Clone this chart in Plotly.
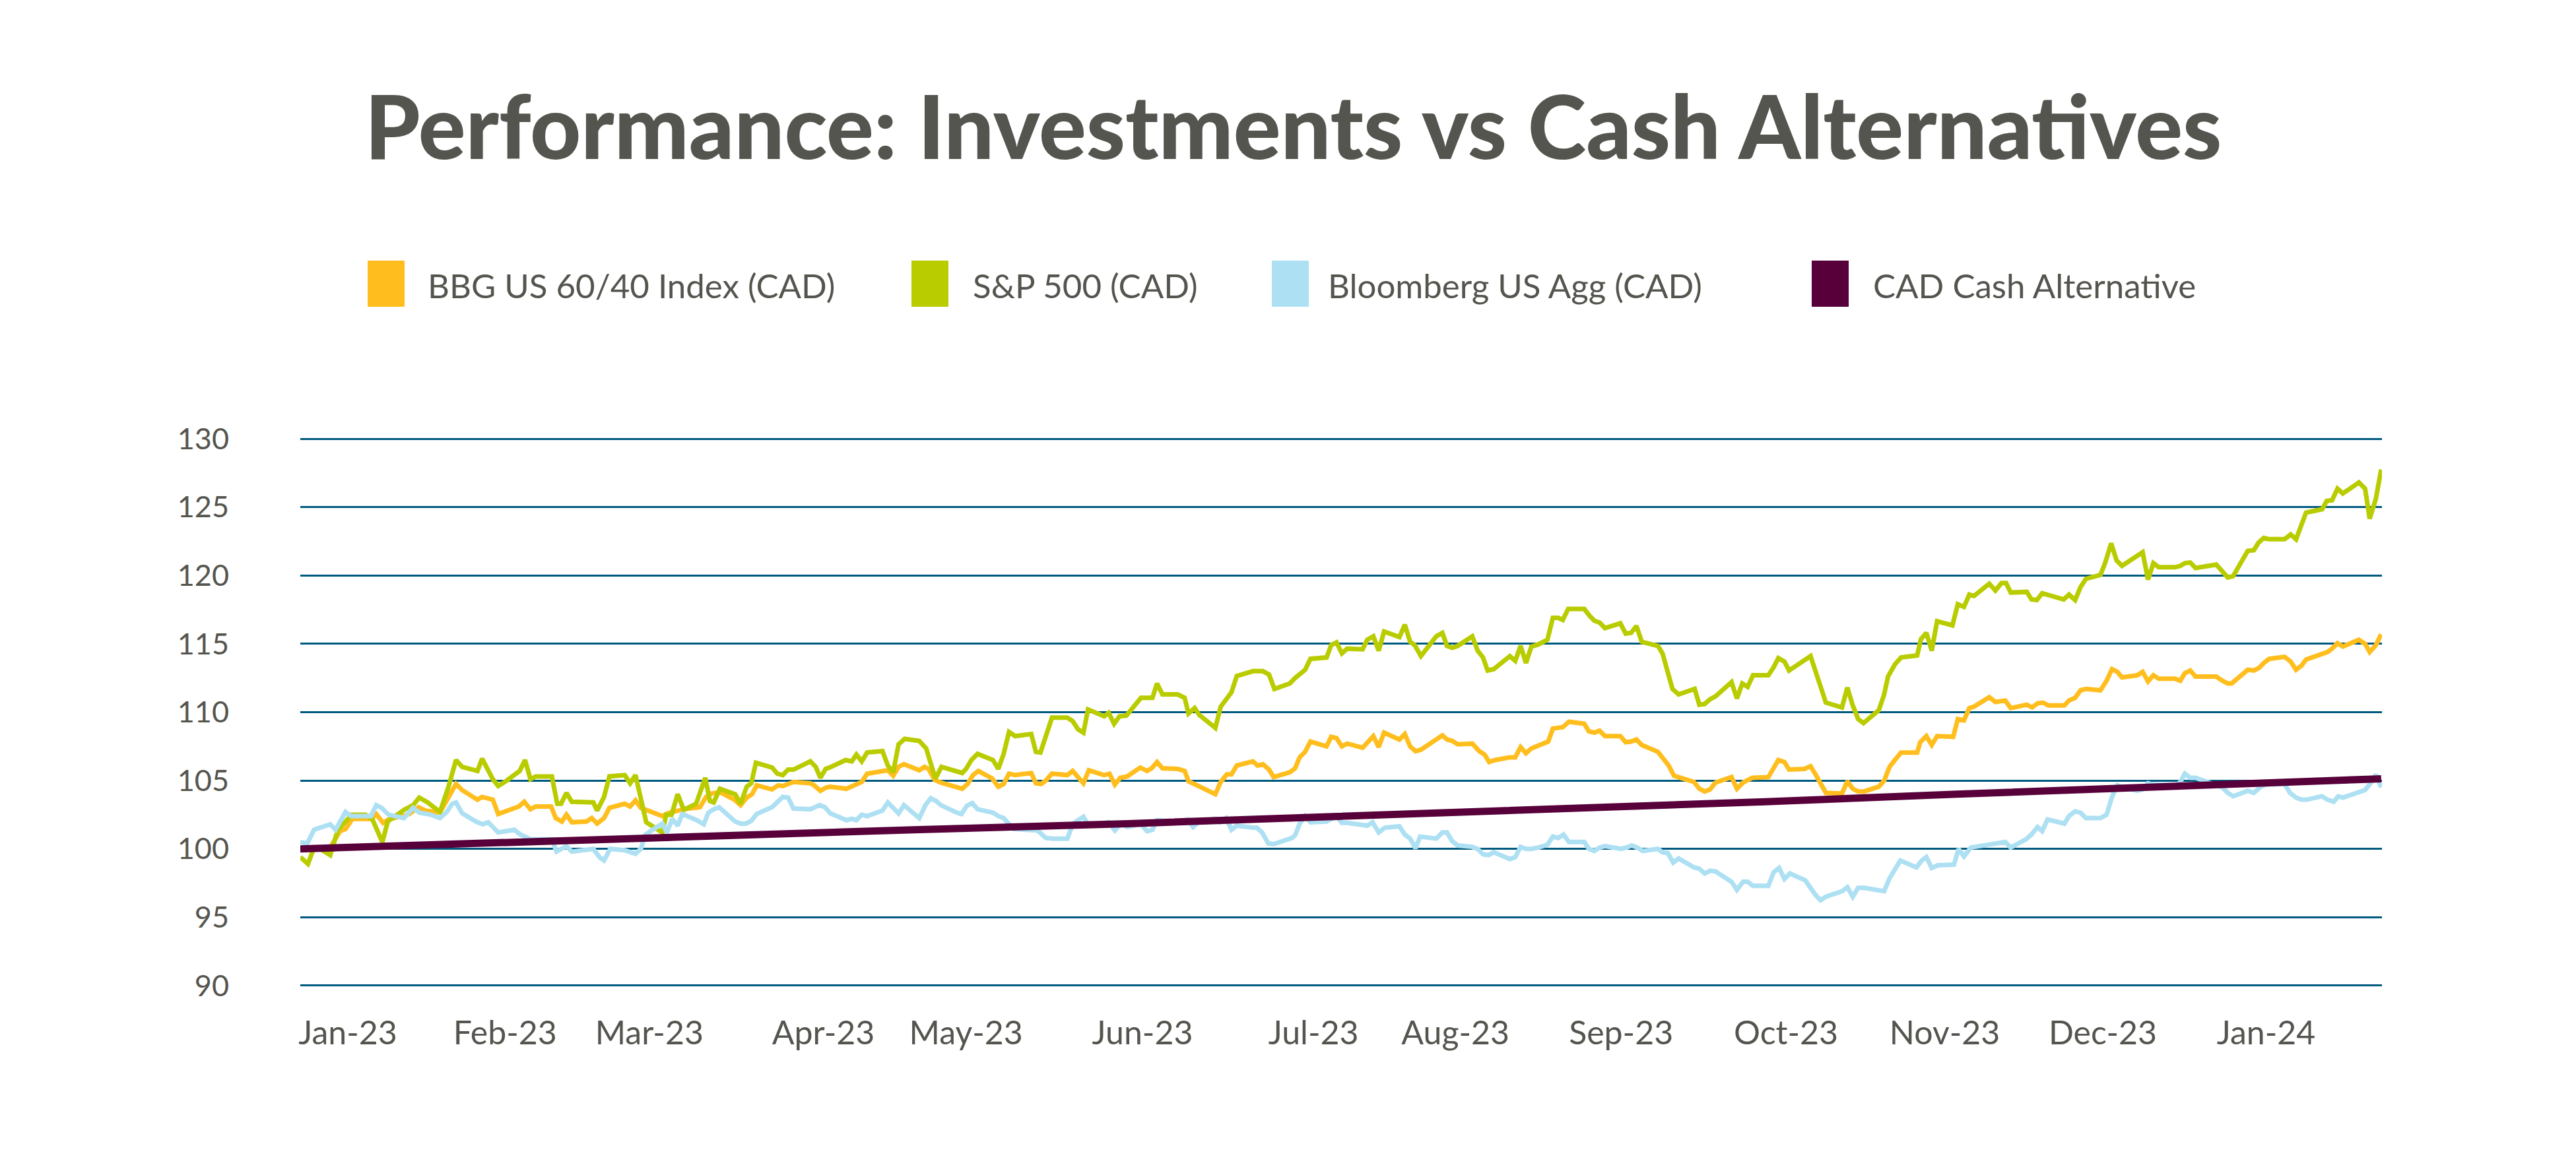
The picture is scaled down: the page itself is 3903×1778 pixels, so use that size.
import plotly.graph_objects as go

# ---------------- data (x = trading-day index, y = index level) ----------------
series_names = ["BBG US 60/40 Index (CAD)", "S&P 500 (CAD)", "Bloomberg US Agg (CAD)", "CAD Cash Alternative"]
series_colors = ["#FFBE1E", "#B9CC00", "#ADE0F2", "#58003A"]

bbg6040_points = [(0,100.0),(0.8,99.9),(1.8,100.05),(3.3,100.0),(4.0,100.2),(5.2,101.3),(5.9,101.45),(6.8,102.2),(9.2,102.2),(9.9,102.55),(10.8,101.9),(11.5,102.15),(13.3,102.4),(14.2,102.55),(15.4,103.05),(16.3,102.8),(18.2,102.65),(19.4,103.8),(20.3,104.75),(21.1,104.3),(23.1,103.6),(23.7,103.8),(25.1,103.6),(25.8,102.55),(28.5,103.1),(29.2,103.45),(30.0,102.9),(30.7,103.1),(32.7,103.1),(33.3,102.25),(34.1,102.0),(34.7,102.5),(35.4,101.95),(37.3,102.0),(38.0,102.25),(38.7,101.85),(39.6,102.25),(40.3,103.0),(42.3,103.3),(43.0,103.1),(43.7,103.55),(44.4,103.0),(47.2,102.4),(47.9,102.6),(49.3,102.85),(50.0,102.9),(52.1,103.05),(52.9,103.8),(53.6,104.05),(54.7,104.15),(56.6,103.6),(57.4,103.2),(58.2,103.75),(58.9,104.0),(59.5,104.65),(61.5,104.35),(62.3,104.65),(62.9,104.6),(64.3,104.9),(66.5,104.8),(67.0,104.65),(67.8,104.25),(68.6,104.5),(69.1,104.55),(71.2,104.4),(71.9,104.6),(72.6,104.8),(73.2,104.9),(73.9,105.5),(75.9,105.7),(76.6,105.75),(77.3,105.35),(78.0,106.0),(78.7,106.2),(80.7,105.75),(81.4,106.0),(81.9,105.85),(82.7,105.05),(83.5,104.85),(86.3,104.4),(87.0,104.75),(87.7,105.4),(88.4,105.7),(90.2,105.15),(91.0,104.55),(91.7,104.75),(92.4,105.5),(93.2,105.4),(95.3,105.55),(95.9,104.8),(96.6,104.75),(97.2,105.0),(98.0,105.5),(100.0,105.4),(100.7,105.7),(102.1,104.8),(102.8,105.75),(104.8,105.4),(105.5,105.5),(106.2,104.7),(106.9,105.2),(107.8,105.3),(109.5,105.95),(110.4,105.7),(111.0,105.9),(111.7,106.35),(112.4,105.9),(114.4,105.85),(115.3,105.7),(115.8,104.95),(116.6,104.75),(117.3,104.5),(119.3,104.0),(120.0,104.9),(120.8,105.45),(121.4,105.45),(122.1,106.1),(124.2,106.4),(124.8,106.1),(125.5,106.2),(126.3,105.8),(126.9,105.25),(129.0,105.6),(129.7,105.9),(130.3,106.7),(131.0,107.1),(131.7,107.85),(133.8,107.5),(134.4,108.2),(135.1,108.1),(135.8,107.5),(136.5,107.7),(138.5,107.4),(139.9,108.25),(140.6,107.45),(141.3,108.5),(143.3,108.0),(144.0,108.4),(144.7,107.5),(145.4,107.15),(146.1,107.25),(148.1,108.0),(148.9,108.3),(149.5,108.0),(150.2,107.9),(150.9,107.65),(152.8,107.7),(153.7,107.15),(154.4,106.9),(155.0,106.35),(155.8,106.5),(157.7,106.7),(158.4,106.7),(159.1,107.45),(159.8,107.0),(160.5,107.35),(161.4,107.55),(162.7,107.85),(163.3,108.8),(164.6,108.9),(165.4,109.3),(167.4,109.15),(168.0,108.6),(168.7,108.5),(169.4,108.65),(170.1,108.25),(172.1,108.25),(172.8,107.8),(173.5,107.85),(174.2,108.0),(174.9,107.6),(177.0,107.1),(177.7,106.6),(178.4,106.1),(179.1,105.35),(181.7,104.9),(182.4,104.4),(183.1,104.2),(183.8,104.35),(184.5,104.85),(186.6,105.25),(187.3,104.4),(188.1,104.85),(189.3,105.2),(191.4,105.25),(192.1,105.9),(192.7,106.5),(193.5,106.35),(194.1,105.8),(196.1,105.85),(196.9,106.05),(197.5,105.5),(198.2,104.8),(198.9,104.1),(201.0,104.05),(201.7,104.95),(202.4,104.4),(203.1,104.2),(203.9,104.2),(205.8,104.55),(206.5,105.0),(207.2,106.0),(207.9,106.5),(208.7,107.05),(210.8,107.05),(211.2,107.8),(212.0,108.25),(212.7,107.6),(213.4,108.25),(215.5,108.2),(216.1,109.5),(216.9,109.4),(217.6,110.3),(218.2,110.4),(220.2,111.1),(221.0,110.75),(222.3,110.85),(223.0,110.3),(225.1,110.55),(225.8,110.35),(226.5,110.65),(227.2,110.7),(227.9,110.5),(230.0,110.5),(230.6,110.85),(231.4,111.05),(232.1,111.6),(232.8,111.7),(234.7,111.6),(235.5,112.3),(236.2,113.15),(236.9,112.95),(237.5,112.55),(239.5,112.7),(240.2,112.95),(240.9,112.25),(241.6,112.7),(242.3,112.45),(244.4,112.45),(245.1,112.3),(245.7,112.85),(246.4,113.05),(247.1,112.6),(249.8,112.6),(250.6,112.3),(251.3,112.1),(251.8,112.1),(253.9,113.1),(254.7,113.05),(255.4,113.25),(256.0,113.6),(256.7,113.9),(258.7,114.05),(259.5,113.7),(260.2,113.1),(260.9,113.4),(261.5,113.85),(263.8,114.25),(264.3,114.4),(264.9,114.65),(265.6,115.05),(266.3,114.8),(268.4,115.3),(269.2,115.0),(269.8,114.4),(270.6,114.9),(271.3,115.7)]

sp500_points = [(0,99.4),(1.0,98.9),(1.8,100.1),(2.6,100.0),(3.9,99.55),(4.9,101.4),(5.9,102.0),(6.7,102.5),(8.5,102.5),(9.4,102.15),(10.7,100.5),(11.4,102.0),(13.5,102.85),(14.7,103.2),(15.5,103.75),(16.6,103.4),(18.2,102.7),(19.3,104.5),(20.3,106.5),(21.1,106.0),(23.1,105.7),(23.7,106.6),(25.1,105.1),(25.8,104.6),(26.8,104.95),(28.0,105.5),(28.6,105.7),(29.3,106.5),(30.0,105.1),(30.7,105.3),(32.8,105.3),(33.5,103.3),(34.0,103.3),(34.7,104.1),(35.4,103.45),(38.2,103.4),(38.7,102.8),(39.6,103.8),(40.3,105.3),(42.3,105.4),(43.0,104.8),(43.7,105.4),(44.4,103.6),(45.1,101.95),(47.2,101.2),(47.7,102.5),(48.4,102.5),(49.2,104.0),(50.0,102.85),(51.6,103.3),(52.8,105.2),(53.4,103.5),(53.9,103.4),(54.7,104.4),(56.7,104.0),(57.4,103.3),(58.2,104.55),(58.8,104.8),(59.4,106.3),(61.5,105.95),(62.2,105.5),(62.9,105.4),(63.6,105.8),(64.3,105.8),(66.5,106.4),(67.2,106.0),(67.8,105.2),(68.5,105.85),(69.0,105.95),(71.1,106.5),(71.9,106.4),(72.5,106.9),(73.2,106.4),(73.9,107.05),(75.9,107.15),(76.6,106.1),(77.3,105.6),(78.0,107.65),(78.8,108.05),(80.7,107.9),(81.6,107.35),(82.1,106.45),(82.8,105.15),(83.6,106.0),(85.6,105.7),(86.3,105.55),(86.8,105.85),(87.5,106.5),(88.3,106.95),(90.3,106.5),(91.0,105.85),(91.7,106.95),(92.4,108.55),(93.2,108.25),(95.3,108.4),(95.9,107.1),(96.5,107.05),(98.0,109.6),(100.0,109.6),(100.7,109.35),(101.4,108.75),(102.1,108.5),(102.7,110.2),(104.8,109.7),(105.4,109.95),(106.1,109.15),(106.8,109.7),(107.7,109.75),(109.6,111.05),(111.1,111.05),(111.7,112.1),(112.4,111.3),(114.4,111.3),(115.3,111.05),(115.8,109.9),(116.6,110.3),(117.2,109.8),(119.3,108.85),(120.0,110.4),(121.4,111.45),(122.1,112.65),(124.2,113.0),(125.5,113.0),(126.3,112.75),(127.0,111.7),(129.0,112.1),(129.7,112.5),(131.0,113.1),(131.7,113.9),(133.8,114.0),(134.4,114.9),(135.1,115.1),(135.8,114.3),(136.5,114.65),(138.5,114.6),(139.1,115.3),(139.9,115.55),(140.6,114.5),(141.3,115.9),(143.3,115.5),(144.0,116.4),(144.7,115.15),(145.3,114.9),(146.1,114.1),(148.1,115.55),(148.9,115.8),(149.5,114.85),(150.2,114.7),(150.9,114.85),(152.8,115.55),(153.5,114.5),(154.2,114.0),(154.8,113.05),(155.6,113.15),(157.7,114.1),(158.4,113.75),(159.1,114.85),(159.8,113.6),(160.5,114.8),(161.4,114.95),(162.6,115.3),(163.3,116.9),(164.0,116.9),(164.6,116.75),(165.3,117.55),(167.4,117.55),(168.1,117.05),(168.7,116.7),(169.4,116.55),(170.1,116.15),(172.1,116.5),(172.8,115.75),(173.5,115.8),(174.2,116.3),(174.9,115.15),(177.0,114.85),(177.6,114.3),(178.2,113.05),(178.9,111.7),(179.7,111.3),(181.8,111.7),(182.4,110.55),(183.1,110.6),(183.8,110.95),(184.5,111.15),(186.6,112.2),(187.3,111.0),(188.0,112.1),(188.7,111.85),(189.4,112.7),(191.4,112.7),(192.1,113.3),(192.7,113.95),(193.5,113.7),(194.1,113.05),(196.9,114.1),(197.5,113.15),(198.2,112.0),(198.9,110.7),(201.0,110.35),(201.7,111.8),(202.4,110.5),(203.1,109.5),(203.8,109.2),(205.8,110.15),(206.5,111.3),(207.0,112.6),(207.9,113.5),(208.7,114.0),(210.8,114.15),(211.3,115.35),(212.0,115.8),(212.7,114.5),(213.4,116.65),(215.4,116.35),(216.1,117.9),(216.9,117.7),(217.6,118.6),(218.2,118.5),(220.2,119.4),(221.0,118.9),(221.8,119.45),(222.4,119.45),(223.0,118.75),(225.1,118.8),(225.7,118.25),(226.4,118.2),(227.1,118.7),(229.9,118.25),(230.6,118.6),(231.4,118.2),(232.1,119.15),(232.8,119.75),(234.7,120.05),(235.3,120.9),(236.1,122.35),(236.8,121.1),(237.5,120.7),(240.2,121.7),(240.9,119.7),(241.6,120.9),(242.3,120.6),(244.4,120.6),(245.1,120.7),(245.7,120.9),(246.4,120.95),(247.1,120.55),(249.8,120.8),(250.6,120.25),(251.3,119.85),(252.0,119.95),(253.9,121.8),(254.7,121.85),(255.3,122.4),(256.0,122.75),(256.7,122.65),(258.7,122.65),(259.5,123.0),(260.2,122.65),(260.9,123.6),(261.5,124.6),(263.6,124.85),(264.2,125.45),(264.9,125.5),(265.6,126.35),(266.3,126.0),(268.4,126.8),(269.2,126.35),(269.8,124.15),(270.6,125.6),(271.3,127.75)]

usagg_points = [(0,100.5),(0.9,100.4),(1.8,101.4),(3.9,101.8),(4.6,101.4),(5.9,102.7),(6.6,102.4),(9.2,102.4),(9.9,103.2),(10.6,103.0),(11.5,102.5),(13.5,102.25),(14.7,103.0),(15.5,102.65),(17.0,102.5),(18.2,102.25),(19.1,102.7),(19.8,103.3),(20.3,103.4),(21.1,102.6),(22.9,102.0),(23.8,101.8),(24.5,101.95),(25.2,101.55),(25.8,101.2),(27.9,101.4),(28.7,101.05),(30.0,100.7),(30.9,100.7),(32.8,100.7),(33.4,99.8),(34.7,100.2),(35.4,99.8),(38.2,100.0),(39.0,99.4),(39.6,99.15),(40.4,100.0),(42.3,99.9),(43.7,99.65),(44.4,100.0),(45.0,101.05),(47.2,101.85),(47.8,101.2),(48.5,102.2),(49.2,101.7),(49.8,102.55),(51.7,102.1),(52.6,101.8),(53.2,102.65),(53.9,102.9),(54.6,103.05),(56.7,102.0),(57.4,101.85),(58.1,101.85),(58.8,102.05),(59.5,102.55),(61.5,103.05),(62.3,103.5),(62.9,103.8),(63.6,103.75),(64.3,102.95),(66.5,102.9),(67.7,103.2),(68.4,103.05),(69.1,102.6),(71.2,102.1),(71.9,102.2),(72.5,102.1),(73.2,102.5),(73.9,102.4),(75.9,102.8),(76.6,103.4),(77.3,103.0),(78.0,102.6),(78.7,103.2),(80.7,102.25),(81.5,103.2),(82.2,103.7),(82.9,103.5),(83.5,103.2),(85.6,102.65),(86.2,102.55),(86.9,103.15),(87.6,103.35),(88.3,102.9),(90.3,102.65),(91.0,102.4),(91.7,102.25),(93.0,101.45),(95.3,101.4),(96.1,101.35),(97.2,100.8),(98.1,100.75),(100.0,100.75),(100.7,101.8),(101.4,102.1),(102.1,102.35),(102.8,101.7),(105.4,101.95),(106.2,101.35),(107.0,101.85),(107.8,101.6),(109.6,101.8),(110.4,101.3),(111.1,101.4),(111.7,102.1),(114.3,101.95),(115.7,102.15),(116.4,101.6),(117.2,102.0),(119.3,102.2),(119.9,101.95),(120.7,102.25),(121.4,101.4),(122.1,101.7),(124.2,101.55),(124.7,101.55),(125.4,101.2),(126.2,100.4),(126.9,100.35),(129.3,100.8),(129.7,101.0),(130.3,101.85),(131.0,102.4),(131.7,101.95),(133.8,102.0),(134.4,102.15),(135.1,102.4),(135.8,101.9),(136.5,101.9),(139.1,101.7),(139.8,101.95),(140.6,101.2),(141.4,101.55),(143.3,101.65),(144.0,101.05),(144.7,100.75),(145.4,100.05),(146.0,100.9),(148.1,100.75),(148.9,101.2),(149.5,101.2),(150.2,100.55),(150.9,100.25),(152.8,100.15),(153.5,100.0),(154.2,99.6),(154.9,99.55),(155.6,99.75),(157.7,99.25),(158.4,99.4),(159.1,100.15),(159.8,100.0),(160.5,100.0),(161.4,100.1),(162.6,100.3),(163.3,100.9),(164.0,100.8),(164.7,101.05),(165.4,100.5),(167.4,100.5),(168.0,100.0),(168.7,99.85),(169.4,100.1),(170.1,100.2),(172.2,100.0),(172.9,100.1),(173.6,100.25),(174.3,100.1),(175.0,99.85),(177.0,100.0),(177.6,99.75),(178.3,99.7),(179.0,99.0),(179.7,99.3),(181.7,98.65),(182.4,98.55),(183.1,98.2),(183.8,98.4),(184.5,98.35),(186.6,97.6),(187.3,97.0),(188.1,97.6),(188.7,97.6),(189.4,97.3),(191.4,97.3),(192.1,98.3),(192.8,98.6),(193.5,97.8),(194.2,98.2),(196.2,97.7),(196.9,97.1),(197.6,96.6),(198.2,96.25),(198.9,96.5),(201.0,96.9),(201.7,97.2),(202.4,96.5),(203.1,97.15),(203.9,97.15),(206.5,96.9),(207.2,97.85),(207.9,98.5),(208.6,99.15),(210.7,98.65),(211.4,99.15),(212.0,99.4),(212.7,98.6),(213.5,98.8),(215.6,98.85),(216.2,100.0),(216.9,99.45),(217.8,100.1),(218.3,100.15),(220.2,100.35),(222.3,100.5),(223.0,100.1),(225.0,100.7),(225.7,101.05),(226.5,101.6),(227.1,101.3),(227.8,102.15),(230.0,101.85),(230.6,102.4),(231.4,102.75),(232.1,102.65),(232.8,102.25),(234.7,102.25),(235.5,102.5),(236.2,103.8),(236.9,104.65),(237.6,104.5),(239.5,104.25),(240.2,104.35),(240.9,104.8),(241.6,104.7),(244.6,104.65),(245.1,104.9),(245.7,105.5),(246.4,105.2),(247.1,105.2),(249.8,104.65),(250.6,104.5),(251.3,104.1),(252.0,103.85),(253.9,104.25),(254.7,104.1),(255.5,104.5),(256.2,104.7),(258.7,104.75),(259.4,104.1),(260.2,103.75),(260.9,103.6),(261.6,103.6),(263.6,103.85),(264.3,103.6),(265.1,103.45),(265.7,103.85),(266.3,103.75),(269.2,104.3),(269.9,104.8),(270.6,105.45),(271.3,104.5)]

cash_points = [(0,100.0),(27,100.5),(54,100.98),(80,101.4),(108,101.85),(135,102.35),(162,102.88),(191,103.45),(216,104.0),(245,104.58),(271.3,105.13)]

tick_days = [6.2, 26.7, 45.5, 68.2, 86.8, 109.8, 132.1, 150.6, 172.2, 193.7, 214.4, 235.0, 256.3]
tick_labels = ["Jan-23", "Feb-23", "Mar-23", "Apr-23", "May-23", "Jun-23", "Jul-23",
               "Aug-23", "Sep-23", "Oct-23", "Nov-23", "Dec-23", "Jan-24"]
y_ticks = [90, 95, 100, 105, 110, 115, 120, 125, 130]

all_points = [bbg6040_points, sp500_points, usagg_points, cash_points]
line_widths = [7, 7, 7, 11]

# ---------------- figure ----------------
W, H = 3903, 1778
OFF = 8  # page body margin offset
L = 455 - OFF
R = W - (3609 - OFF)
T = 665 - OFF - 2
B = H - (1494 - OFF) - 2
TEXT = "#55554F"

fig = go.Figure()
for name, color, pts, lw in zip(series_names, series_colors, all_points, line_widths):
    fig.add_trace(go.Scatter(
        x=[p[0] for p in pts], y=[p[1] for p in pts], mode="lines", name=name,
        line=dict(color=color, width=lw), showlegend=False, hoverinfo="skip"))

def px_x(px):
    return (px - OFF - L) / (W - L - R)

def px_y(py):
    return (H - B - (py - OFF)) / (H - T - B)

# manual legend (tall square swatches), positions in page pixels
swatch_left = [557, 1381, 1927, 2745]
text_left = [646, 1472, 2010, 2836]
shapes = []
annotations = []
for name, color, sx, tx in zip(series_names, series_colors, swatch_left, text_left):
    shapes.append(dict(type="rect", xref="paper", yref="paper",
                       x0=px_x(sx), x1=px_x(sx + 56), y0=px_y(465), y1=px_y(395),
                       fillcolor=color, line=dict(width=0), layer="above"))
    annotations.append(dict(text=name, xref="paper", yref="paper", x=px_x(tx), y=px_y(432),
                            xanchor="left", yanchor="middle", showarrow=False,
                            font=dict(family="Lato", size=51, color=TEXT)))

fig.update_layout(
    width=W, height=H,
    margin=dict(l=L, r=R, t=T, b=B, pad=0),
    paper_bgcolor="white", plot_bgcolor="white",
    title=dict(text="Performance: Investments vs Cash Alternatives",
               x=0.5, xanchor="center", xref="container",
               y=1 - (194 - OFF) / H, yanchor="middle",
               font=dict(family="Lato", size=134, color=TEXT, weight=900)),
    shapes=shapes, annotations=annotations,
    xaxis=dict(range=[0, 271.4], showgrid=False, zeroline=False, showline=False,
               tickmode="array", tickvals=tick_days, ticktext=tick_labels,
               ticks="", ticklabelstandoff=36,
               tickfont=dict(family="Lato", size=50, color=TEXT)),
    yaxis=dict(range=[89.9, 130.1], tickmode="array", tickvals=y_ticks,
               showgrid=True, gridcolor="#005A80", gridwidth=3,
               zeroline=False, showline=False, ticks="", ticklabelstandoff=107,
               tickfont=dict(family="Lato", size=45, color=TEXT)),
    showlegend=False,
)

fig.write_html("out.html")
